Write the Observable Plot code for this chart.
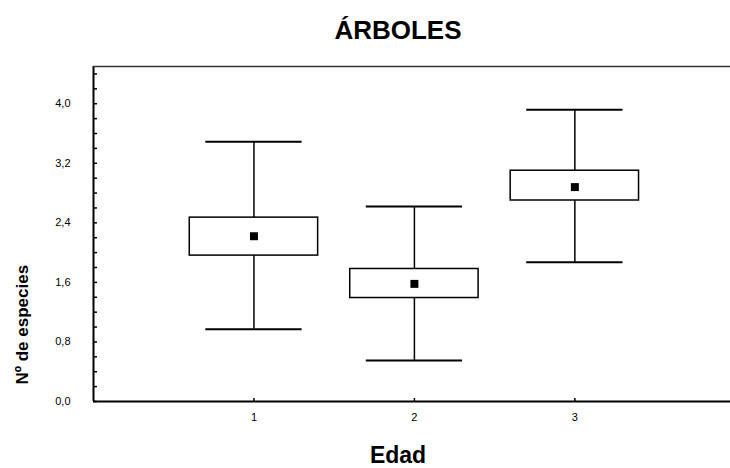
<!DOCTYPE html>
<html>
<head>
<meta charset="utf-8">
<script src="https://cdn.jsdelivr.net/npm/d3@7"></script>
<script src="https://cdn.jsdelivr.net/npm/@observablehq/plot@0.6"></script>
<style>
  html, body { margin: 0; padding: 0; background: #fff; }
  #chart svg { display: block; }
</style>
</head>
<body>
<div id="chart"></div>
<script>
// Data
const edad = [1, 2, 3];
const media = [2.22, 1.58, 2.88];
const cajaInf = [1.96, 1.39, 2.70];
const cajaSup = [2.47, 1.78, 3.10];
const bigoteInf = [0.97, 0.55, 1.87];
const bigoteSup = [3.49, 2.62, 3.92];
const yTicks = [0, 0.8, 1.6, 2.4, 3.2, 4.0];
const yMinorTicks = d3.range(0, 23).map(i => i * 0.2);
const xTicks = [1, 2, 3];

const titulo = "ÁRBOLES";
const tituloX = "Edad";
const tituloY = "Nº de especies";

const data = edad.map((e, i) => ({
  edad: e, media: media[i], lo: cajaInf[i], hi: cajaSup[i],
  wlo: bigoteInf[i], whi: bigoteSup[i]
}));

const boxHalf = 0.4, capHalf = 0.3;
const fmt = v => v.toFixed(1).replace(".", ",");

const chart = Plot.plot({
  width: 730,
  height: 468,
  marginLeft: 93,
  marginRight: 0,
  marginTop: 66,
  marginBottom: 67,
  style: { fontFamily: "'Liberation Sans', Arial, sans-serif", background: "white", color: "black" },
  x: { domain: [0, 3.97], label: null },
  y: { domain: [0, 4.5], label: null },
  marks: [
    // frame (left, top, bottom)
    Plot.ruleX([0], { stroke: "black", strokeWidth: 2 }),
    Plot.ruleY([0], { stroke: "black", strokeWidth: 2 }),
    Plot.ruleY([4.5], { stroke: "#333", strokeWidth: 1.5 }),
    // y axis: minor inward ticks and labels
    Plot.axisY(yMinorTicks, { anchor: "left", tickSize: 4, dx: 4, text: null, label: null, stroke: "black", strokeWidth: 1.5 }),
    Plot.axisY(yTicks, { anchor: "left", tickSize: 0, tickPadding: 23, tickFormat: fmt, fontSize: 11, fill: "black", label: null }),
    // x axis
    Plot.axisX(xTicks, { anchor: "bottom", tickSize: 3, dy: -3, text: null, label: null, stroke: "black", strokeWidth: 1.5 }),
    Plot.axisX(xTicks, { anchor: "bottom", tickSize: 0, tickPadding: 12, tickFormat: d => String(d), fontSize: 11, fill: "black", label: null }),
    // whiskers
    Plot.ruleX(data, { x: "edad", y1: "hi", y2: "whi", stroke: "black", strokeWidth: 1.5 }),
    Plot.ruleX(data, { x: "edad", y1: "wlo", y2: "lo", stroke: "black", strokeWidth: 1.5 }),
    Plot.ruleY(data, { y: "whi", x1: d => d.edad - capHalf, x2: d => d.edad + capHalf, stroke: "black", strokeWidth: 2 }),
    Plot.ruleY(data, { y: "wlo", x1: d => d.edad - capHalf, x2: d => d.edad + capHalf, stroke: "black", strokeWidth: 2 }),
    // boxes
    Plot.rect(data, { x1: d => d.edad - boxHalf, x2: d => d.edad + boxHalf, y1: "lo", y2: "hi", fill: "white", stroke: "black", strokeWidth: 1.5 }),
    // means
    Plot.dot(data, { x: "edad", y: "media", symbol: "square", r: 4.5, fill: "black", stroke: "none" }),
    // titles
    Plot.text([titulo], { frameAnchor: "top", dx: -14, dy: -36, text: d => d, fontSize: 26, fontWeight: "bold", lineAnchor: "middle", fill: "black" }),
    Plot.text([tituloX], { frameAnchor: "bottom", dx: -14, dy: 54, text: d => d, fontSize: 23, fontWeight: "bold", lineAnchor: "middle", fill: "black" }),
    Plot.text([tituloY], { frameAnchor: "bottom-left", dx: -71, dy: -17, rotate: -90, text: d => d, fontSize: 17, fontWeight: "bold", textAnchor: "start", lineAnchor: "middle", fill: "black" })
  ]
});
document.getElementById("chart").appendChild(chart);
</script>
</body>
</html>
